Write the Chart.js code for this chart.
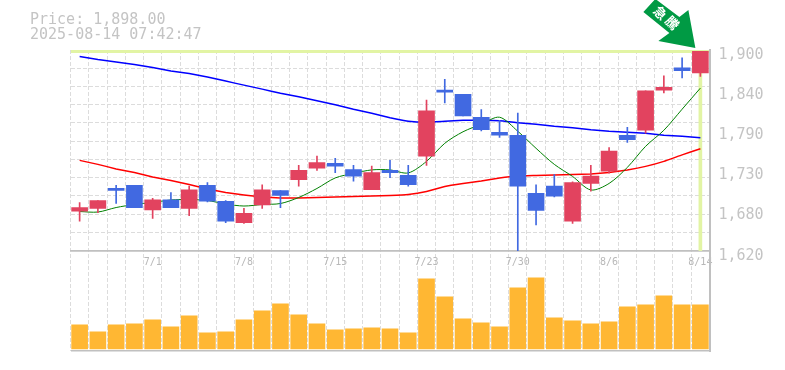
<!DOCTYPE html>
<html><head><meta charset="utf-8">
<style>html,body{margin:0;padding:0;background:#fff}#w{width:785px;height:370px;position:relative}</style>
<script src="https://cdn.jsdelivr.net/npm/chart.js@4"></script>
</head><body><div id="w"><canvas id="c" width="785" height="370"></canvas></div>
<script>
const dates=["6/25","6/26","6/27","6/30","7/1","7/2","7/3","7/4","7/7","7/8","7/9","7/10","7/11","7/14","7/15","7/16","7/17","7/18","7/22","7/23","7/24","7/25","7/28","7/29","7/30","7/31","8/1","8/4","8/5","8/6","8/7","8/8","8/12","8/13","8/14"];
const shownDates=["7/1","7/8","7/15","7/23","7/30","8/6","8/14"];
const open=[1675,1679,1707,1711,1677,1691,1679,1711,1689,1659,1684,1704,1719,1735,1742,1733,1705,1732,1725,1752,1844,1838,1806,1785,1781,1700,1710,1661,1714,1731,1781,1788,1844,1875,1868];
const close=[1680,1690,1704,1680,1691,1680,1705,1689,1661,1672,1705,1697,1732,1743,1738,1724,1729,1729,1712,1815,1841,1808,1789,1781,1710,1676,1696,1715,1724,1759,1775,1843,1848,1871,1898];
const high=[1687,1690,1711,1711,1693,1701,1710,1715,1690,1679,1712,1704,1739,1752,1749,1739,1738,1746,1739,1830,1859,1838,1817,1802,1812,1712,1726,1716,1739,1764,1792,1843,1864,1889,1898];
const low=[1661,1673,1686,1680,1665,1680,1669,1688,1659,1658,1679,1680,1710,1732,1729,1717,1705,1722,1710,1739,1826,1808,1787,1778,1620,1656,1695,1658,1703,1728,1771,1784,1840,1861,1863];
const volume=[24000,17000,24000,25000,29000,22000,33000,16000,17000,29000,38000,45000,34000,25000,19000,20000,21000,20000,16000,70000,52000,30000,26000,22000,61000,71000,31000,28000,25000,27000,42000,44000,53000,44000,44000];
const maShort=[1674.6,1673.9,1680.2,1684.4,1687.2,1690.7,1691.4,1690,1685.1,1682.3,1684.4,1685.8,1694.2,1706.8,1721.5,1727.8,1732.7,1732.7,1728.5,1744.6,1769.8,1785.9,1796.4,1806.2,1786.6,1762.8,1740.4,1723.6,1704.7,1713.8,1736.2,1765.6,1788,1817.4,1846.8];
const maMid=[1746,1740.4,1734.1,1729.2,1722.9,1718,1712.4,1706.1,1701.2,1697.7,1694.9,1693.5,1693.5,1694.2,1694.9,1695.6,1696.3,1697,1698.4,1702.6,1709.6,1713.8,1717.3,1721.5,1724.3,1725,1725.7,1726.4,1727.1,1729.2,1732.7,1737.6,1744.6,1753.7,1762.1];
const maLong=[1890.9,1886.7,1883.2,1879.7,1875.5,1870.6,1867.1,1862.2,1856.6,1851,1845.4,1839.8,1834.9,1829.3,1823.7,1817.4,1811.8,1805.5,1800.6,1799.2,1800.6,1802,1802,1801.3,1798.5,1796.4,1793.6,1791.5,1788.7,1786.6,1785.2,1783.8,1781,1779.6,1777.5];
const priceLabels=[1620,1676,1732,1788,1844,1900];
const priceLabelText=["1,620","1,680","1,730","1,790","1,840","1,900"];
const lastPrice=1898;
const titleLines=["Price: 1,898.00","2025-08-14 07:42:47"];
const badge=["急","騰"];

const RED="#e2435f",BLUE="#4169e1",GRID="#dcdcdc",AXIS="#c0c0c0",HI="#e2f4a4";
const PRICE_MIN=1480,PRICE_MAX=1900,GSTEP=280/11;
const gridVals=[];for(let i=0;i<12;i++)gridVals.push(1620+GSTEP*i);
const candleColor=c=>close[c.dataIndex]>=open[c.dataIndex]?RED:BLUE;

const arrow={id:"arrow",afterDatasetsDraw(ch){
  const g=ch.ctx,tx=ch.scales.x.getPixelForValue(dates.length-1)-5,ty=ch.scales.y.getPixelForValue(lastPrice)-3.5;
  g.save();g.translate(tx,ty);
  g.fillStyle="#009a44";g.beginPath();
  const p=[[0,0],[-37,-7],[-26,-15],[-52,-36],[-40,-49],[-16,-31],[-7,-38]];
  p.forEach((q,i)=>i?g.lineTo(q[0],q[1]):g.moveTo(q[0],q[1]));g.closePath();g.fill();
  g.fillStyle="#fff";g.font="bold 13px 'Noto Sans CJK JP'";g.textAlign="center";g.textBaseline="middle";
  [[-35,-35],[-23,-25]].forEach((q,i)=>{g.save();g.translate(q[0],q[1]);g.rotate(Math.PI/4);g.fillText(badge[i],0,0);g.restore();});
  g.restore();
}};

new Chart(document.getElementById("c"),{
 type:"bar",
 plugins:[arrow],
 data:{labels:dates,datasets:[
  {type:"bar",label:"body",data:open.map((o,i)=>[o,close[i]]),backgroundColor:candleColor,barThickness:16,yAxisID:"y",order:1,grouped:false},
  {type:"bar",label:"wick",data:low.map((l,i)=>[l,high[i]]),backgroundColor:candleColor,barThickness:1,yAxisID:"y",order:2,grouped:false},
  {type:"line",label:"short",data:maShort,borderColor:"#008000",borderWidth:1,pointRadius:0,yAxisID:"y",order:3,tension:0.3},
  {type:"line",label:"mid",data:maMid,borderColor:"#ff0000",borderWidth:1.5,pointRadius:0,yAxisID:"y",order:4,tension:0.1},
  {type:"line",label:"long",data:maLong,borderColor:"#0000ff",borderWidth:1.5,pointRadius:0,yAxisID:"y",order:5,tension:0.1},
  {type:"bar",label:"now",data:dates.map((d,i)=>i===dates.length-1?[1620,PRICE_MAX]:null),backgroundColor:HI,barThickness:3,yAxisID:"y",order:6,grouped:false},
  {type:"bar",label:"volume",data:volume,backgroundColor:"#ffb733",barThickness:16,yAxisID:"yv",order:7,grouped:false}
 ]},
 options:{
  responsive:false,animation:false,events:[],
  layout:{padding:{left:30,right:0,top:0,bottom:19}},
  plugins:{legend:{display:false},tooltip:{enabled:false},
   title:{display:true,text:titleLines,align:"start",color:"#c4c4c4",
     font:{family:"'DejaVu Sans Mono'",size:15,lineHeight:1,weight:"normal"},padding:{top:13,bottom:7}}},
  scales:{
   x:{position:{y:1620},offset:true,
     grid:{color:GRID,offset:true,tickLength:0,drawTicks:false},
     border:{color:AXIS,width:1.5,dash:[4,2]},
     ticks:{autoSkip:false,maxRotation:0,minRotation:0,padding:6,color:"#b8b8b8",font:{family:"'DejaVu Sans Mono'",size:10},
       callback(v){const s=dates[v];return shownDates.includes(s)?s:"";}}},
   y:{position:"left",min:PRICE_MIN,max:PRICE_MAX,
     afterBuildTicks(a){a.ticks=[PRICE_MIN,...gridVals.slice(0,-1),lastPrice].map(value=>({value}));},
     afterFit(a){a.width=40.5;},
     ticks:{display:false},
     grid:{drawTicks:false,
       color:c=>c.tick.value===lastPrice?HI:(c.tick.value===PRICE_MIN||c.tick.value===1620?AXIS:GRID),
       lineWidth:c=>c.tick.value===lastPrice?3:(c.tick.value===PRICE_MIN||c.tick.value===1620?1.5:1)},
     border:{display:false,dash:c=>(c.tick&&(c.tick.value===lastPrice||c.tick.value===PRICE_MIN||c.tick.value===1620))?[]:[4,2]}},
   yl:{position:"right",min:PRICE_MIN+7,max:PRICE_MAX+7,
     afterBuildTicks(a){a.ticks=priceLabels.map(value=>({value}));},
     afterFit(a){a.width=75.5;},
     grid:{display:false,drawTicks:false},
     border:{display:true,color:AXIS,width:2},
     ticks:{padding:9,color:"#c4c4c4",font:{family:"'DejaVu Sans Mono'",size:15},
       callback(v){return priceLabelText[priceLabels.indexOf(v)];}}},
   yv:{display:false,min:-2000,max:298000}
  }
 }
});
</script></body></html>
